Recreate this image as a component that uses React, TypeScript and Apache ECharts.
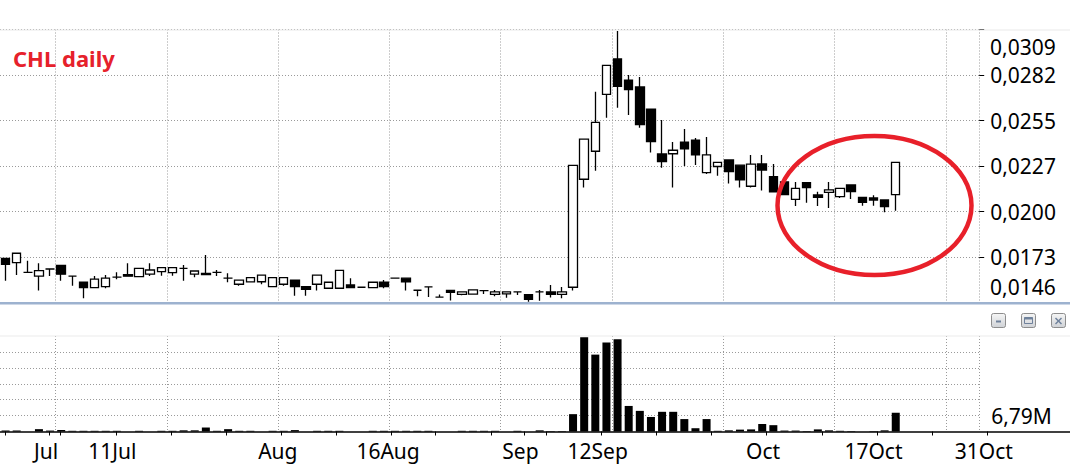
import React, { useEffect, useRef } from 'react';
import * as echarts from 'echarts';

// ---------- data ----------
const opens = [
  0.01724, 0.01698, 0.0164, 0.01618, 0.0166, 0.01682, 0.01618, 0.01581, 0.01549, 0.01555,
  0.01611, 0.01626, 0.01614, 0.01629, 0.01644, 0.01638, 0.01664, 0.01629, 0.01634, 0.0164,
  0.01605, 0.01569, 0.01583, 0.01584, 0.01555, 0.01569, 0.01594, 0.01555, 0.01569, 0.01545,
  0.01545, 0.01565, 0.01551, 0.01549, 0.01581, 0.01605, 0.01605, 0.01533, 0.01553, 0.01492,
  0.01532, 0.01508, 0.0151, 0.01531, 0.01508, 0.01511, 0.01523, 0.01507, 0.01523, 0.01523,
  0.01508, 0.01551, 0.02196, 0.02363, 0.02703, 0.02914, 0.02787, 0.02747, 0.02615, 0.02347,
  0.02348, 0.02418, 0.0243, 0.02236, 0.02272, 0.02311, 0.0228, 0.02154, 0.02287, 0.02211,
  0.0218, 0.02076, 0.02175, 0.02102, 0.02118, 0.02092, 0.02162, 0.02088, 0.02084, 0.02072,
  0.02104,
];
const closes = [
  0.01688, 0.01754, 0.0164, 0.0165, 0.0166, 0.01629, 0.01618, 0.01549, 0.01599, 0.01605,
  0.01611, 0.01617, 0.01664, 0.01654, 0.01668, 0.01668, 0.01664, 0.01648, 0.01626, 0.0164,
  0.01605, 0.01594, 0.01608, 0.01623, 0.01608, 0.01608, 0.01555, 0.01539, 0.01624, 0.01581,
  0.01652, 0.01549, 0.01551, 0.01581, 0.01555, 0.01605, 0.01584, 0.01533, 0.01553, 0.01492,
  0.01521, 0.01523, 0.01535, 0.01531, 0.01523, 0.01523, 0.01523, 0.01479, 0.01523, 0.01508,
  0.01523, 0.02279, 0.02436, 0.02536, 0.02876, 0.02751, 0.02731, 0.02522, 0.0242, 0.02301,
  0.02369, 0.02378, 0.02341, 0.02341, 0.02297, 0.02241, 0.02193, 0.02286, 0.02251, 0.0212,
  0.02104, 0.02142, 0.02146, 0.02088, 0.02132, 0.02142, 0.02122, 0.02058, 0.02072, 0.02032,
  0.02297,
];
const lows = [
  0.0159, 0.01624, 0.01636, 0.01531, 0.01618, 0.0159, 0.0156, 0.01485, 0.01545, 0.01545,
  0.01599, 0.01617, 0.01614, 0.01618, 0.0162, 0.0162, 0.0159, 0.01611, 0.01626, 0.01618,
  0.01581, 0.0156, 0.01583, 0.01569, 0.01555, 0.0156, 0.01501, 0.01501, 0.01531, 0.01545,
  0.01545, 0.01549, 0.01551, 0.01545, 0.01545, 0.01605, 0.01532, 0.01498, 0.01493, 0.01492,
  0.01472, 0.01503, 0.0151, 0.01511, 0.01498, 0.01488, 0.01505, 0.01465, 0.01471, 0.0149,
  0.01485, 0.01531, 0.02146, 0.02247, 0.02563, 0.02623, 0.0258, 0.02504, 0.02355, 0.02265,
  0.02146, 0.02275, 0.02281, 0.02227, 0.02217, 0.02171, 0.02146, 0.02146, 0.02128, 0.0212,
  0.02104, 0.02036, 0.02056, 0.02036, 0.02024, 0.02084, 0.02078, 0.02038, 0.02038, 0.01999,
  0.02008,
];
const highs = [
  0.01724, 0.01754, 0.0171, 0.01694, 0.0166, 0.01682, 0.01618, 0.01581, 0.01618, 0.01624,
  0.0164, 0.01694, 0.01664, 0.01694, 0.01668, 0.01668, 0.01684, 0.01648, 0.01744, 0.01654,
  0.01634, 0.01594, 0.01608, 0.01623, 0.01608, 0.01608, 0.01594, 0.01555, 0.01624, 0.01581,
  0.01652, 0.01605, 0.01551, 0.01581, 0.01594, 0.01605, 0.01605, 0.01533, 0.01553, 0.01508,
  0.01532, 0.01523, 0.01535, 0.01531, 0.01535, 0.01523, 0.01523, 0.01507, 0.01535, 0.01565,
  0.01553, 0.02279, 0.02436, 0.02719, 0.02876, 0.03081, 0.02818, 0.02806, 0.02615, 0.0255,
  0.02418, 0.02496, 0.02442, 0.02448, 0.02297, 0.02311, 0.0228, 0.02341, 0.02341, 0.02287,
  0.0218, 0.0218, 0.02175, 0.02122, 0.0218, 0.02142, 0.02162, 0.02088, 0.021, 0.02072,
  0.02297,
];
// volume in millions
const volumesM = [
  0.4, 0.4, 0, 1.0, 0.4, 0.6, 0.3, 0.3, 0.3, 0.3,
  0.3, 0, 0.3, 0, 0.3, 0.3, 0.5, 0.5, 1.7, 0.3,
  1.0, 0.3, 0.3, 0, 0.3, 0.3, 0.6, 0, 0.3, 0.3,
  0.3, 0, 0, 0.3, 0.3, 0.3, 0.3, 0.3, 0.3, 0,
  0, 0.3, 0.3, 0.3, 0.3, 0, 0.3, 0, 0.5, 0.2,
  0.2, 7.4, 40.2, 32.8, 38.0, 39.4, 10.9, 8.8, 6.2, 8.4,
  8.4, 5.3, 1.4, 5.3, 0.3, 0.5, 0.8, 0.9, 3.2, 2.7,
  0.4, 0.4, 0.2, 0.9, 0.5, 0.3, 0.2, 0, 0.2, 0.5,
  8.0,
];

const priceTickLabels = ['0,0146', '0,0173', '0,0200', '0,0227', '0,0255', '0,0282', '0,0309'];
const priceMin = 0.0146;
const priceMax = 0.0309;
const volumeStepM = 6.79;
const volumeTickLabel = '6,79M';

const labelDates = ['2022-07-01', '2022-07-11', '2022-08-01', '2022-08-16', '2022-09-01', '2022-09-12', '2022-10-03', '2022-10-17', '2022-10-31'];
const labelTexts = ['Jul', '11Jul', 'Aug', '16Aug', 'Sep', '12Sep', 'Oct', '17Oct', '31Oct'];
const holidays = ['2022-08-15'];
const firstDay = [2022, 5, 27];
const lastTickDay = '2022-10-31';
const plotSlots = 88;
const axisSlots = 97;

function pad(n: number) {
  return n < 10 ? '0' + n : '' + n;
}
function tradingDays(count: number) {
  const out: string[] = [];
  const d = new Date(Date.UTC(firstDay[0], firstDay[1], firstDay[2]));
  while (out.length < count) {
    const dow = d.getUTCDay();
    const s = d.getUTCFullYear() + '-' + pad(d.getUTCMonth() + 1) + '-' + pad(d.getUTCDate());
    if (dow !== 0 && dow !== 6 && holidays.indexOf(s) < 0) out.push(s);
    d.setUTCDate(d.getUTCDate() + 1);
  }
  return out;
}

const days = tradingDays(axisSlots);
const tickIdx = new Set<number>();
days.forEach((s, i) => {
  if (s > lastTickDay) return;
  if (i === 0) { tickIdx.add(i); return; }
  const p = days[i - 1];
  const dow = new Date(s + 'T00:00:00Z').getUTCDay();
  const pdow = new Date(p + 'T00:00:00Z').getUTCDay();
  if (dow <= pdow || s.slice(0, 7) !== p.slice(0, 7)) tickIdx.add(i);
});

const FONT = "'Noto Sans', 'Open Sans', 'DejaVu Sans', sans-serif";
const GRID_LEFT = -2;
const CW = 11.15;
const dotted = { color: '#9a9a9a', type: [1, 2] as any, width: 1 };

export default function App() {
  const ref = useRef<HTMLDivElement>(null);
  useEffect(() => {
    if (!ref.current) return;
    const chart = echarts.init(ref.current, undefined, { renderer: 'svg' });
    const candleData = opens.map((o, i) => [o, closes[i], lows[i], highs[i]]);
    const btnFill = new echarts.graphic.LinearGradient(0, 0, 0, 1, [
      { offset: 0, color: '#f6f6f6' },
      { offset: 1, color: '#cfd2d6' },
    ]);
    const button = (x: number) => ({
      type: 'rect', z: 60,
      shape: { x: x + 0.5, y: 313.5, width: 14, height: 14, r: 2 },
      style: { fill: btnFill, stroke: '#8d8d8d', lineWidth: 1 },
    });
    chart.setOption({
      animation: false,
      backgroundColor: '#fff',
      grid: [
        { left: GRID_LEFT, top: 29.5, width: plotSlots * CW, height: 273 },
        { left: GRID_LEFT, top: 336, width: plotSlots * CW, height: 95.5 },
        { left: GRID_LEFT, top: 336, width: axisSlots * CW, height: 95.5 },
      ],
      xAxis: [
        {
          type: 'category', gridIndex: 0, data: days.slice(0, plotSlots), boundaryGap: true,
          axisLine: { show: false }, axisTick: { show: false }, axisLabel: { show: false },
          splitLine: { show: true, interval: (i: number) => i % 10 === 5, lineStyle: dotted },
        },
        {
          type: 'category', gridIndex: 1, data: days.slice(0, plotSlots), boundaryGap: true,
          axisLine: { show: false }, axisTick: { show: false }, axisLabel: { show: false },
          splitLine: { show: true, interval: (i: number) => i % 10 === 5, lineStyle: dotted },
        },
        {
          type: 'category', gridIndex: 2, data: days, boundaryGap: true, position: 'bottom',
          axisLine: { show: true, lineStyle: { color: '#000', width: 1.5 } },
          axisTick: {
            show: true, alignWithLabel: true, length: 4,
            interval: (i: number) => tickIdx.has(i),
            lineStyle: { color: '#000', width: 1 },
          },
          axisLabel: {
            show: true, margin: 9, color: '#000', fontSize: 21, fontFamily: FONT,
            hideOverlap: false, padding: [0, 7, 0, 0],
            interval: (i: number, v: string) => labelDates.indexOf(v) >= 0,
            formatter: (v: string) => {
              const k = labelDates.indexOf(v);
              return k >= 0 ? labelTexts[k] : '';
            },
          },
          splitLine: { show: false },
        },
      ],
      yAxis: [
        {
          type: 'value', gridIndex: 0, position: 'right', scale: true,
          min: priceMin, max: priceMax, interval: (priceMax - priceMin) / 6,
          axisLine: { show: false },
          axisTick: { show: true, length: 5, lineStyle: { color: '#000', width: 1 } },
          axisLabel: {
            show: true, margin: 11, color: '#000', fontSize: 21, fontFamily: FONT,
            showMinLabel: false, showMaxLabel: false,
            formatter: (v: number) => {
              const k = Math.round((v - priceMin) / ((priceMax - priceMin) / 6));
              return k <= 0 || k >= 6 ? '' : priceTickLabels[k];
            },
          },
          splitLine: { show: true, showMinLine: false, showMaxLine: false, lineStyle: dotted },
        },
        {
          type: 'value', gridIndex: 1, position: 'right',
          min: 0, max: volumeStepM * 6, interval: volumeStepM,
          axisLine: { show: false }, axisTick: { show: false },
          axisLabel: {
            show: true, margin: 12, color: '#000', fontSize: 21, fontFamily: FONT,
            padding: [0, 0, 5, 0],
            formatter: (v: number) => (Math.round(v / volumeStepM) === 1 ? volumeTickLabel : ''),
          },
          splitLine: { show: true, showMinLine: false, showMaxLine: false, lineStyle: dotted },
        },
        {
          type: 'value', gridIndex: 2, show: false,
          axisLine: { show: false }, axisTick: { show: false }, axisLabel: { show: false },
          splitLine: { show: false },
        },
      ],
      series: [
        {
          type: 'candlestick', xAxisIndex: 0, yAxisIndex: 0, barWidth: 9,
          data: candleData,
          itemStyle: {
            color: '#ffffff', color0: '#000000',
            borderColor: '#000000', borderColor0: '#000000', borderColorDoji: '#000000',
            borderWidth: 1.3,
          },
        },
        {
          type: 'bar', xAxisIndex: 1, yAxisIndex: 1, barWidth: 8,
          data: volumesM,
          itemStyle: { color: '#000000' },
        },
      ],
      graphic: {
        elements: [
          { type: 'rect', z: 40, shape: { x: 0, y: 29.5, width: 1070, height: 1 }, style: { fill: '#e9e9e9' } },
          { type: 'rect', z: 40, shape: { x: 0, y: 302, width: 1070, height: 2.5 }, style: { fill: '#9db2cf' } },
          { type: 'rect', z: 40, shape: { x: 0, y: 335.5, width: 1070, height: 1 }, style: { fill: '#ebebeb' } },
          {
            type: 'text', z: 60, x: 13, y: 58,
            style: {
              text: 'CHL daily', fill: '#e6212b', font: `bold 22px ${FONT}`,
              textAlign: 'left', textVerticalAlign: 'middle',
            },
          },
          {
            type: 'text', z: 60, x: 990, y: 47,
            style: {
              text: priceTickLabels[6], fill: '#000', font: `21px ${FONT}`,
              textAlign: 'left', textVerticalAlign: 'middle',
            },
          },
          {
            type: 'text', z: 60, x: 990, y: 287,
            style: {
              text: priceTickLabels[0], fill: '#000', font: `21px ${FONT}`,
              textAlign: 'left', textVerticalAlign: 'middle',
            },
          },
          {
            type: 'ellipse', z: 70,
            shape: { cx: 874.5, cy: 205.5, rx: 97, ry: 69.5 },
            style: { fill: 'none', stroke: '#e8202a', lineWidth: 4.5 },
          },
          button(991),
          button(1021),
          button(1051),
          { type: 'rect', z: 61, shape: { x: 996, y: 320.5, width: 5, height: 2 }, style: { fill: '#6f819b' } },
          { type: 'rect', z: 61, shape: { x: 1024.5, y: 317.5, width: 8, height: 6 }, style: { fill: 'none', stroke: '#6f819b', lineWidth: 1 } },
          { type: 'rect', z: 61, shape: { x: 1024.5, y: 317.5, width: 8, height: 2 }, style: { fill: '#6f819b' } },
          { type: 'line', z: 61, shape: { x1: 1055.5, y1: 318, x2: 1061.5, y2: 324 }, style: { stroke: '#6f819b', lineWidth: 1.5 } },
          { type: 'line', z: 61, shape: { x1: 1061.5, y1: 318, x2: 1055.5, y2: 324 }, style: { stroke: '#6f819b', lineWidth: 1.5 } },
        ],
      },
    });
    return () => chart.dispose();
  }, []);
  return (
    <div
      ref={ref}
      style={{ position: 'fixed', left: 0, top: 0, width: 1070, height: 467, background: '#fff' }}
    />
  );
}
